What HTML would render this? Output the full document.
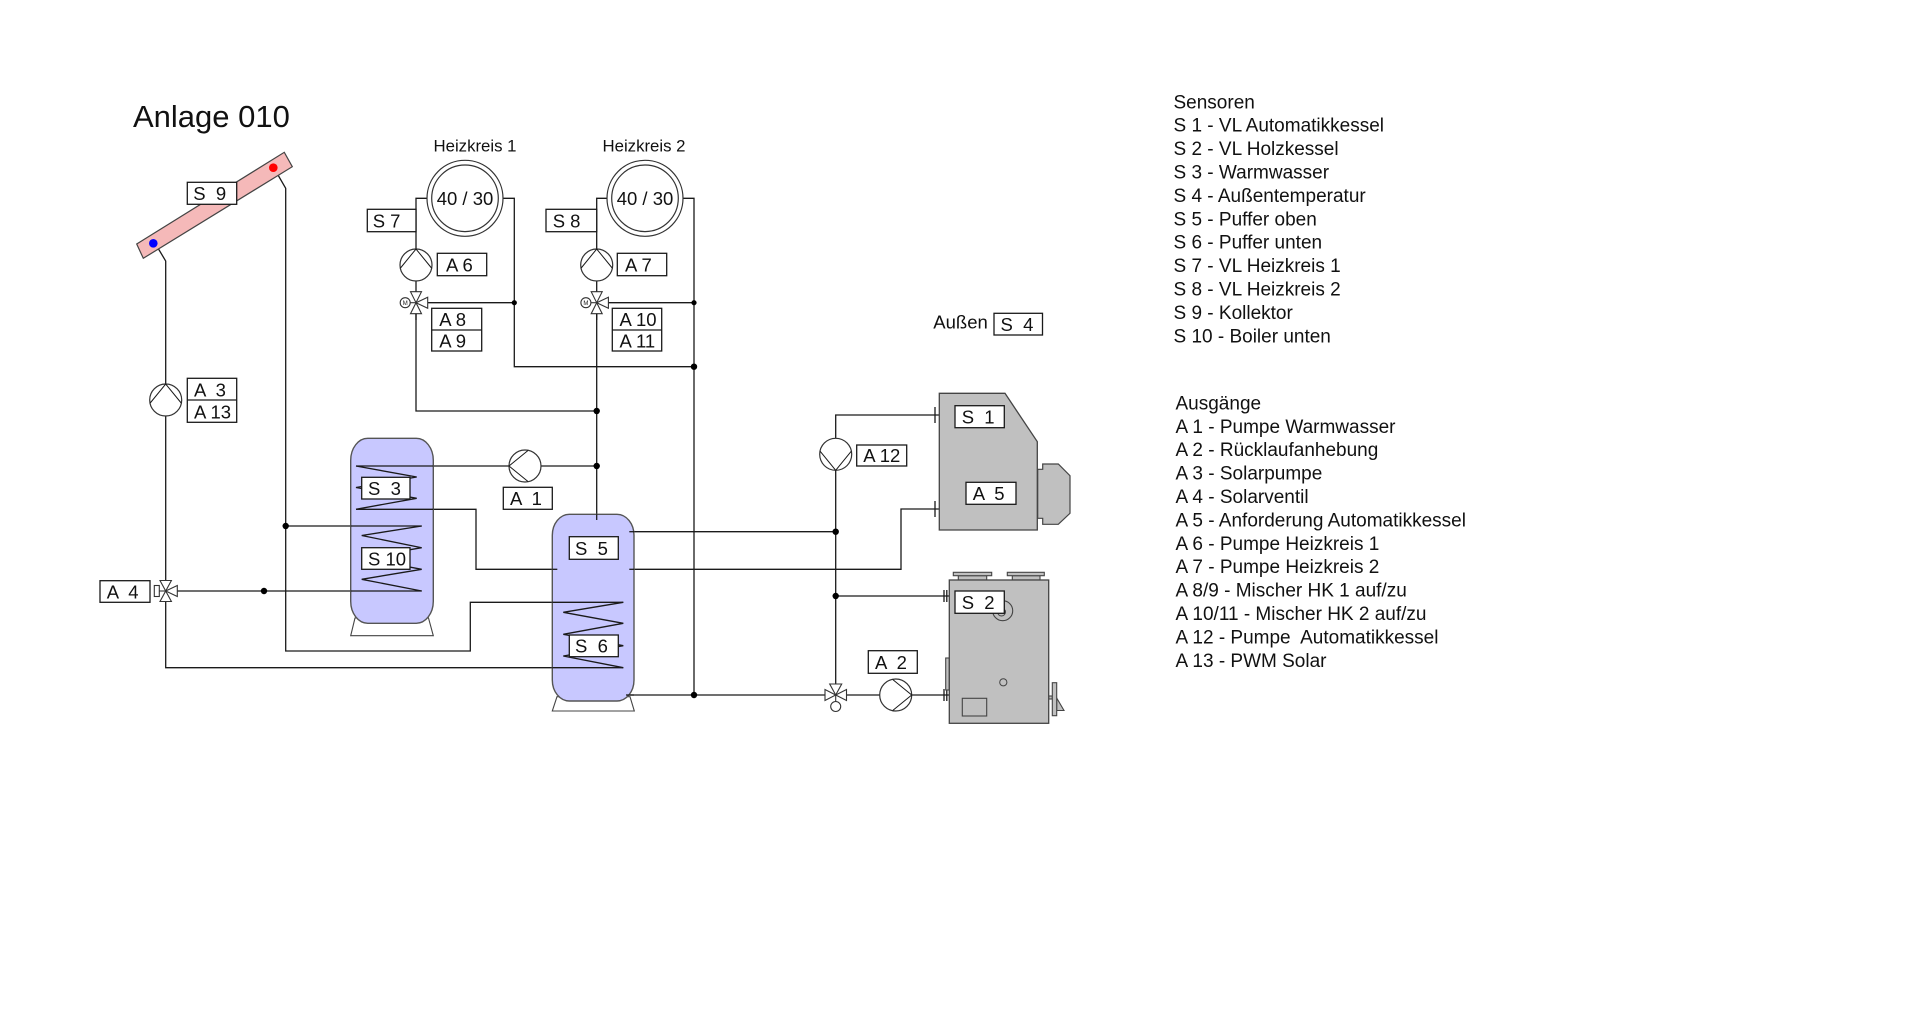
<!DOCTYPE html>
<html>
<head>
<meta charset="utf-8">
<style>
  html, body { margin: 0; padding: 0; background: #ffffff; }
  body { width: 1920px; height: 1014px; overflow: hidden; }
  svg { display: block; }
  text { font-family: "Liberation Sans", Arial, sans-serif; fill: #111; white-space: pre; }
  .lbl { font-size: 18.5px; }
  .leg { font-size: 19px; }
  .p { fill: none; stroke: #1a1a1a; stroke-width: 1.3; }
  .box { fill: #ffffff; stroke: #1a1a1a; stroke-width: 1.3; }
  .pump { fill: #ffffff; stroke: #333; stroke-width: 1.2; }
  .v { fill: #ffffff; stroke: #333; stroke-width: 1.1; }
  .dot { fill: #000; }
</style>
</head>
<body>
<svg width="1920" height="1014" viewBox="0 0 1920 1014" xmlns="http://www.w3.org/2000/svg" xml:space="preserve">

<!-- Title -->
<text x="133" y="127" style="font-size:31px">Anlage 010</text>

<!-- ================= PIPES ================= -->
<g class="p">
  <polyline points="158.5,249 165.7,261 165.7,667.7 626,667.7"/>
  <polyline points="278.3,175.5 285.7,188.3 285.7,651 470.3,651 470.3,602.3 623.3,602.3"/>
  <line x1="177.3" y1="591" x2="421.7" y2="591"/>
  <line x1="285.7" y1="526" x2="421.7" y2="526"/>
  <polyline points="421.7,526 361.7,535.5 421.7,547.7 361.7,558 421.7,569.3 361.7,579.3 421.7,591"/>
  <polyline points="356,466 416.7,477 356,487.5 416.7,498.3 356,509.3"/>
  <line x1="356" y1="466" x2="596.7" y2="466"/>
  <polyline points="356,509.3 476,509.3 476,569.3 557.3,569.3"/>

  <polyline points="427,198.3 416,198.3 416,411 596.7,411"/>
  <polyline points="503,198.3 514.3,198.3 514.3,366.7 694,366.7"/>
  <line x1="427.7" y1="302.7" x2="514.3" y2="302.7"/>
  <polyline points="607,198.3 596.7,198.3 596.7,520"/>
  <polyline points="683,198.3 694,198.3 694,695"/>
  <line x1="608.4" y1="302.7" x2="694" y2="302.7"/>

  <line x1="629.3" y1="531.7" x2="835.7" y2="531.7"/>
  <polyline points="629.3,569.3 901,569.3 901,509 939.3,509"/>
  <line x1="626" y1="695" x2="825" y2="695"/>
  <line x1="846.5" y1="695" x2="949.3" y2="695"/>

  <polyline points="939.3,415 835.7,415 835.7,684"/>
  <line x1="835.7" y1="596" x2="949.3" y2="596"/>
  <line x1="935" y1="407" x2="935" y2="423"/>
  <line x1="935" y1="501" x2="935" y2="517"/>
  <line x1="944" y1="590" x2="944" y2="602"/>
  <line x1="946.8" y1="590" x2="946.8" y2="602"/>
  <line x1="944" y1="689" x2="944" y2="701"/>
  <line x1="946.8" y1="689" x2="946.8" y2="701"/>
</g>

<!-- ================= COLLECTOR ================= -->
<polygon points="136.7,244 284.3,152.3 292.3,166.7 143.3,258.3" fill="#f5b9b9" stroke="#444" stroke-width="1.2"/>
<circle cx="153.3" cy="243.3" r="4.3" fill="#0000ff"/>
<circle cx="273.3" cy="167.7" r="4.3" fill="#ff0000"/>
<rect class="box" x="187.3" y="182.3" width="49.4" height="22"/>
<text class="lbl" x="193.3" y="200">S  9</text>

<!-- ================= TANK 1 ================= -->
<polygon points="355,618 350.7,635.7 433.3,635.7 428.5,618" fill="#fff" stroke="#444" stroke-width="1.1"/>
<rect x="350.7" y="438.3" width="82.6" height="185" rx="17" ry="22" fill="#c8c8ff" stroke="#555" stroke-width="1.4"/>
<g class="p">
  <polyline points="421.7,526 361.7,535.5 421.7,547.7 361.7,558 421.7,569.3 361.7,579.3 421.7,591"/>
  <polyline points="356,466 416.7,477 356,487.5 416.7,498.3 356,509.3"/>
  <line x1="356" y1="466" x2="433.3" y2="466"/>
  <line x1="356" y1="509.3" x2="433.3" y2="509.3"/>
  <line x1="350.7" y1="526" x2="421.7" y2="526"/>
  <line x1="350.7" y1="591" x2="421.7" y2="591"/>
</g>
<rect class="box" x="361.7" y="477.3" width="48.3" height="21.7"/>
<text class="lbl" x="368" y="495">S  3</text>
<rect class="box" x="361.7" y="547.7" width="48.3" height="21.6"/>
<text class="lbl" x="368" y="565.3">S 10</text>

<!-- ================= TANK 2 ================= -->
<polygon points="557,696.7 552.3,711 634.3,711 630,696.7" fill="#fff" stroke="#444" stroke-width="1.1"/>
<rect x="552.3" y="514.3" width="81.7" height="186.7" rx="17" ry="21" fill="#c8c8ff" stroke="#555" stroke-width="1.4"/>
<g class="p">
  <line x1="596.7" y1="514.3" x2="596.7" y2="520"/>
  <line x1="552.3" y1="569.3" x2="557.3" y2="569.3"/>
  <line x1="629.3" y1="531.7" x2="634" y2="531.7"/>
  <line x1="629.3" y1="569.3" x2="634" y2="569.3"/>
  <line x1="552.3" y1="602.3" x2="623.3" y2="602.3"/>
  <line x1="552.3" y1="667.7" x2="623.3" y2="667.7"/>
  <line x1="626" y1="695" x2="634" y2="695"/>
  <polyline points="623.3,602.3 563.3,612.3 623.3,623.3 563.3,634.3 623.3,645.7 563.3,656 623.3,667.7"/>
</g>
<rect class="box" x="569.3" y="536.7" width="49" height="22.6"/>
<text class="lbl" x="575" y="555">S  5</text>
<rect class="box" x="569.3" y="635" width="49" height="21.7"/>
<text class="lbl" x="575" y="652.7">S  6</text>

<!-- ================= HEIZKREISE ================= -->
<text x="475" y="151.7" text-anchor="middle" style="font-size:16.8px">Heizkreis 1</text>
<text x="644" y="151.7" text-anchor="middle" style="font-size:16.8px">Heizkreis 2</text>
<circle cx="465" cy="198.3" r="38" fill="#fff" stroke="#333" stroke-width="1.2"/>
<circle cx="465" cy="198.3" r="33.3" fill="#fff" stroke="#333" stroke-width="1.2"/>
<text x="465" y="204.8" text-anchor="middle" style="font-size:18.5px">40 / 30</text>
<circle cx="645" cy="198.3" r="38" fill="#fff" stroke="#333" stroke-width="1.2"/>
<circle cx="645" cy="198.3" r="33.3" fill="#fff" stroke="#333" stroke-width="1.2"/>
<text x="645" y="204.8" text-anchor="middle" style="font-size:18.5px">40 / 30</text>

<rect class="box" x="367.3" y="209.3" width="48.7" height="22.4"/>
<text class="lbl" x="372.7" y="227.5">S 7</text>
<rect class="box" x="546" y="209.3" width="50.7" height="22.4"/>
<text class="lbl" x="552.7" y="227.5">S 8</text>

<circle class="pump" cx="416" cy="265" r="16"/>
<polyline class="p" points="400.5,268 416,249 431.5,268" style="stroke-width:1"/>
<circle class="pump" cx="596.7" cy="265" r="16"/>
<polyline class="p" points="581.2,268 596.7,249 612.2,268" style="stroke-width:1"/>
<rect class="box" x="437.3" y="253.3" width="49.4" height="22.4"/>
<text class="lbl" x="446" y="271.5">A 6</text>
<rect class="box" x="617.3" y="253.3" width="49.4" height="22.4"/>
<text class="lbl" x="625" y="271.5">A 7</text>

<g class="v">
  <line x1="405.5" y1="302.7" x2="416" y2="302.7"/>
  <polygon points="410.5,291.7 421.5,291.7 416,302.7"/>
  <polygon points="410.5,313.7 421.5,313.7 416,302.7"/>
  <polygon points="427.7,297.2 427.7,308.2 416,302.7"/>
  <circle cx="405.2" cy="302.7" r="5"/>
  <line x1="596.7" y1="302.7" x2="586.2" y2="302.7"/>
  <polygon points="591.2,291.7 602.2,291.7 596.7,302.7"/>
  <polygon points="591.2,313.7 602.2,313.7 596.7,302.7"/>
  <polygon points="608.4,297.2 608.4,308.2 596.7,302.7"/>
  <circle cx="585.9" cy="302.7" r="5"/>
</g>
<text x="405.2" y="304.8" text-anchor="middle" style="font-size:6px">M</text>
<text x="585.9" y="304.8" text-anchor="middle" style="font-size:6px">M</text>
<line class="p" x1="416" y1="313.7" x2="416" y2="320"/>
<line class="p" x1="596.7" y1="313.7" x2="596.7" y2="320"/>

<rect class="box" x="431.7" y="308.3" width="50" height="42.7"/>
<line class="p" x1="431.7" y1="330" x2="481.7" y2="330"/>
<text class="lbl" x="439.3" y="326">A 8</text>
<text class="lbl" x="439.3" y="347.5">A 9</text>
<rect class="box" x="612.3" y="308.3" width="49.4" height="42.7"/>
<line class="p" x1="612.3" y1="330" x2="661.7" y2="330"/>
<text class="lbl" x="619.5" y="326">A 10</text>
<text class="lbl" x="619.5" y="347.5">A 11</text>

<!-- ================= SOLAR PUMP A3 / VALVE A4 ================= -->
<circle class="pump" cx="165.7" cy="400" r="16"/>
<polyline class="p" points="150.2,403 165.7,384 181.2,403" style="stroke-width:1"/>
<rect class="box" x="187.3" y="378.3" width="49.4" height="44"/>
<line class="p" x1="187.3" y1="400" x2="236.7" y2="400"/>
<text class="lbl" x="194" y="396.5">A  3</text>
<text class="lbl" x="194" y="418.3">A 13</text>

<g class="v">
  <line x1="159.3" y1="591" x2="165.7" y2="591"/>
  <polygon points="160,580.5 171.4,580.5 165.7,591"/>
  <polygon points="160,601.5 171.4,601.5 165.7,591"/>
  <polygon points="177.3,585.5 177.3,596.5 165.7,591"/>
  <rect x="154.3" y="585.5" width="5" height="11"/>
</g>
<rect class="box" x="100" y="580.7" width="50" height="21.6"/>
<text class="lbl" x="106.7" y="598.3">A  4</text>

<circle class="pump" cx="525" cy="466" r="16"/>
<polyline class="p" points="528,450.5 509,466 528,481.5" style="stroke-width:1"/>
<rect class="box" x="503.3" y="487.3" width="49" height="22"/>
<text class="lbl" x="510" y="505">A  1</text>

<!-- ================= BOILER 1 (Automatik) ================= -->
<polygon points="1037.7,469.3 1042.7,469.3 1042.7,464 1058.3,464 1070,475.7 1070,513.3 1058.3,524.3 1042.7,524.3 1042.7,518.3 1037.7,518.3" fill="#c0c0c0" stroke="#444" stroke-width="1.2"/>
<polygon points="939.3,393.3 1005,393.3 1037.3,441.7 1037.3,530 939.3,530" fill="#c0c0c0" stroke="#444" stroke-width="1.3"/>
<rect class="box" x="955" y="405.7" width="49.3" height="22"/>
<text class="lbl" x="961.7" y="423.3">S  1</text>
<rect class="box" x="966" y="482.3" width="50" height="22"/>
<text class="lbl" x="972.7" y="500">A  5</text>

<circle class="pump" cx="835.7" cy="454.3" r="16"/>
<polyline class="p" points="820.2,451.3 835.7,470.3 851.2,451.3" style="stroke-width:1"/>
<rect class="box" x="856.7" y="445" width="50" height="21"/>
<text class="lbl" x="863.3" y="462">A 12</text>

<g class="dot">
  <circle cx="285.7" cy="526" r="3.2"/>
  <circle cx="264" cy="591" r="3.2"/>
  <circle cx="514.3" cy="302.7" r="2.6"/>
  <circle cx="694" cy="302.7" r="2.6"/>
  <circle cx="694" cy="366.7" r="3.2"/>
  <circle cx="596.7" cy="411" r="3.2"/>
  <circle cx="596.7" cy="466" r="3.2"/>
  <circle cx="694" cy="695" r="3.2"/>
  <circle cx="835.7" cy="531.7" r="3.2"/>
  <circle cx="835.7" cy="596" r="3.2"/>
</g>

<g class="v">
  <line x1="835.7" y1="695" x2="835.7" y2="701.5"/>
  <polygon points="829.7,684 841.7,684 835.7,695"/>
  <polygon points="825,689.5 825,700.5 835.7,695"/>
  <polygon points="846.5,689.5 846.5,700.5 835.7,695"/>
  <circle cx="835.7" cy="706.5" r="5"/>
</g>

<circle class="pump" cx="895.7" cy="695" r="16"/>
<polyline class="p" points="892.7,679.5 911.7,695 892.7,710.5" style="stroke-width:1"/>
<rect class="box" x="868.3" y="650.7" width="49" height="22.6"/>
<text class="lbl" x="875" y="668.8">A  2</text>

<!-- ================= BOILER 2 (Holz) ================= -->
<g fill="#c0c0c0" stroke="#444" stroke-width="1.1">
  <rect x="958.3" y="575.7" width="28.4" height="4.3"/>
  <rect x="953.3" y="572.3" width="38.4" height="3.4"/>
  <rect x="1012.3" y="575.7" width="27.7" height="4.3"/>
  <rect x="1007.3" y="572.3" width="37" height="3.4"/>
  <rect x="945.7" y="658" width="3.6" height="32"/>
  <polygon points="1056.7,698 1064,710.5 1056.7,710.5"/>
  <rect x="1048.7" y="696" width="3.6" height="3"/>
  <rect x="1052.3" y="682.7" width="4.4" height="33"/>
</g>
<rect x="949.3" y="580" width="99.4" height="143.3" fill="#c0c0c0" stroke="#444" stroke-width="1.3"/>
<circle cx="1002.7" cy="610.7" r="10" fill="#c0c0c0" stroke="#444" stroke-width="1.1"/>
<circle cx="1001.5" cy="612" r="4" fill="none" stroke="#444" stroke-width="1"/>
<circle cx="1003.3" cy="682.3" r="3.6" fill="none" stroke="#444" stroke-width="1"/>
<rect x="962.3" y="698.3" width="24.4" height="17.7" fill="none" stroke="#444" stroke-width="1.1"/>
<rect class="box" x="955" y="591" width="49.3" height="22.3"/>
<text class="lbl" x="961.7" y="608.8">S  2</text>

<!-- Außen S4 -->
<text class="lbl" x="933.3" y="328.3">Außen</text>
<rect class="box" x="994" y="313.3" width="48.5" height="21.7"/>
<text class="lbl" x="1000.5" y="330.8">S  4</text>

<!-- ================= LEGEND ================= -->
<g class="leg">
  <text x="1173.5" y="108.3">Sensoren</text>
  <text x="1173.5" y="131.7">S 1 - VL Automatikkessel</text>
  <text x="1173.5" y="155.1">S 2 - VL Holzkessel</text>
  <text x="1173.5" y="178.5">S 3 - Warmwasser</text>
  <text x="1173.5" y="201.9">S 4 - Außentemperatur</text>
  <text x="1173.5" y="225.3">S 5 - Puffer oben</text>
  <text x="1173.5" y="248.7">S 6 - Puffer unten</text>
  <text x="1173.5" y="272.1">S 7 - VL Heizkreis 1</text>
  <text x="1173.5" y="295.5">S 8 - VL Heizkreis 2</text>
  <text x="1173.5" y="318.9">S 9 - Kollektor</text>
  <text x="1173.5" y="342.3">S 10 - Boiler unten</text>

  <text x="1175.5" y="409.4">Ausgänge</text>
  <text x="1175.5" y="432.8">A 1 - Pumpe Warmwasser</text>
  <text x="1175.5" y="456.2">A 2 - Rücklaufanhebung</text>
  <text x="1175.5" y="479.6">A 3 - Solarpumpe</text>
  <text x="1175.5" y="503.0">A 4 - Solarventil</text>
  <text x="1175.5" y="526.4">A 5 - Anforderung Automatikkessel</text>
  <text x="1175.5" y="549.8">A 6 - Pumpe Heizkreis 1</text>
  <text x="1175.5" y="573.2">A 7 - Pumpe Heizkreis 2</text>
  <text x="1175.5" y="596.6">A 8/9 - Mischer HK 1 auf/zu</text>
  <text x="1175.5" y="620.0">A 10/11 - Mischer HK 2 auf/zu</text>
  <text x="1175.5" y="643.4">A 12 - Pumpe  Automatikkessel</text>
  <text x="1175.5" y="666.8">A 13 - PWM Solar</text>
</g>

</svg>
</body>
</html>
